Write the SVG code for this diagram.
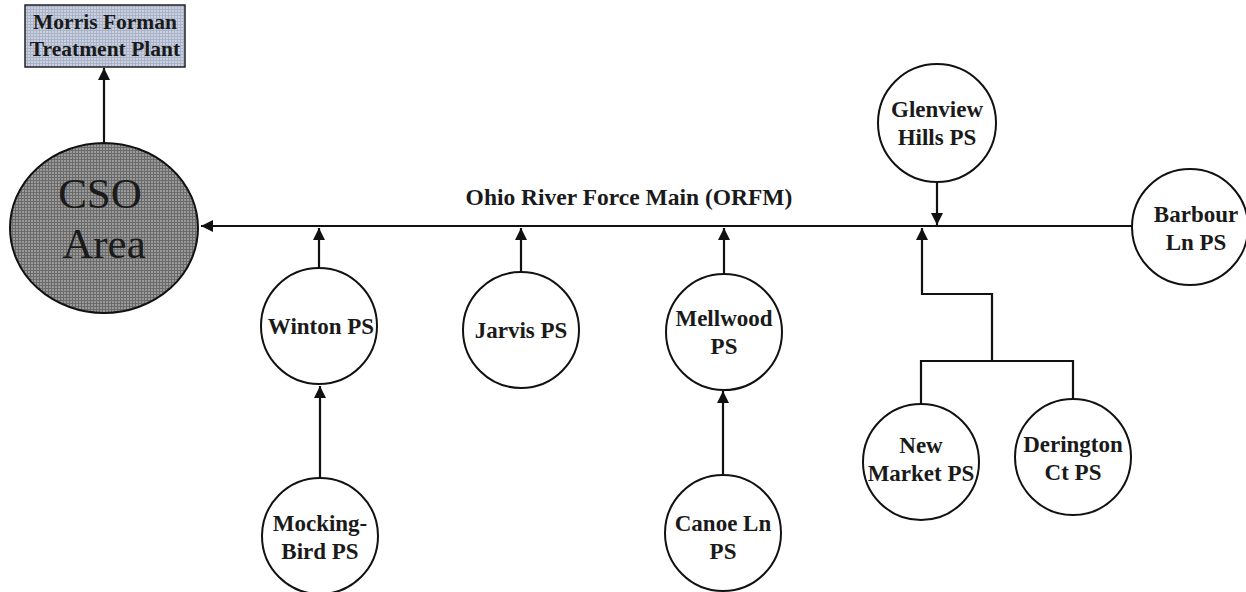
<svg xmlns="http://www.w3.org/2000/svg" width="1246" height="592" viewBox="0 0 1246 592">
<style>
.node{fill:#fff;stroke:#111;stroke-width:2}
.lbl{font-family:"Liberation Serif","Times New Roman",serif;font-weight:bold;font-size:23px;fill:#1a1a1a;text-anchor:middle}
.big{font-family:"Liberation Serif","Times New Roman",serif;font-size:43px;fill:#1a1a1a;text-anchor:middle}
.ln{fill:none;stroke:#111;stroke-width:2.2}
</style>
<defs>
<marker id="ah" markerUnits="userSpaceOnUse" markerWidth="12" markerHeight="14" refX="12" refY="6" orient="auto">
<path d="M0,0 L12,6 L0,12 z" fill="#111"/>
</marker>
<pattern id="hatchDark" width="3" height="3" patternUnits="userSpaceOnUse">
<rect width="3" height="3" fill="#9a9a9a"/>
<path d="M0,0.5H3M0.5,0V3" stroke="#6a6a6a" stroke-width="1"/>
</pattern>
<pattern id="hatchBlue" width="3" height="3" patternUnits="userSpaceOnUse">
<rect width="3" height="3" fill="#c9d1e2"/>
<path d="M0,0.5H3M0.5,0V3" stroke="#aab3c6" stroke-width="1"/>
</pattern>
</defs>
<rect width="1246" height="592" fill="#fff"/>

<g id="connectors">
<line class="ln" x1="1132" y1="226" x2="201" y2="226" marker-end="url(#ah)" stroke-width="2.6"/>
<line class="ln" x1="104" y1="143" x2="104" y2="68" marker-end="url(#ah)" stroke-width="2.6"/>
<line class="ln" x1="319" y1="267" x2="319" y2="228" marker-end="url(#ah)"/>
<line class="ln" x1="521" y1="272" x2="521" y2="228" marker-end="url(#ah)"/>
<line class="ln" x1="724" y1="274" x2="724" y2="228" marker-end="url(#ah)"/>
<line class="ln" x1="320" y1="478" x2="320" y2="386" marker-end="url(#ah)"/>
<line class="ln" x1="723" y1="475" x2="723" y2="391" marker-end="url(#ah)"/>
<line class="ln" x1="937" y1="182" x2="937" y2="225" marker-end="url(#ah)"/>
<polyline class="ln" points="992,361 992,294 922,294 922,228" marker-end="url(#ah)"/>
<polyline class="ln" points="921,404 921,361 1073,361 1073,399"/>
</g>

<text x="629" y="205" class="lbl" style="font-size:23.5px">Ohio River Force Main (ORFM)</text>

<g id="morris-forman">
<rect x="25" y="5" width="160" height="62" fill="url(#hatchBlue)" stroke="#222" stroke-width="1.5"/>
<text x="105" y="29" class="lbl" style="font-size:21.5px">Morris Forman</text>
<text x="105" y="56" class="lbl" style="font-size:21.5px">Treatment Plant</text>
</g>

<g id="cso-area">
<ellipse cx="104" cy="228" rx="94" ry="85" fill="url(#hatchDark)" stroke="#111" stroke-width="2"/>
<text x="100" y="208" class="big">CSO</text>
<text x="104" y="258" class="big">Area</text>
</g>

<g id="winton">
<circle cx="319" cy="326" r="58" class="node"/>
<text x="321" y="334" class="lbl">Winton PS</text>
</g>

<g id="jarvis">
<circle cx="521" cy="330" r="58" class="node"/>
<text x="521" y="338" class="lbl">Jarvis PS</text>
</g>

<g id="mellwood">
<circle cx="724" cy="332" r="58" class="node"/>
<text x="724" y="326" class="lbl">Mellwood</text>
<text x="724" y="354" class="lbl">PS</text>
</g>

<g id="glenview">
<circle cx="937" cy="123" r="59" class="node"/>
<text x="937" y="117" class="lbl">Glenview</text>
<text x="937" y="145" class="lbl">Hills PS</text>
</g>

<g id="barbour">
<circle cx="1190" cy="227" r="58" class="node"/>
<text x="1196" y="222" class="lbl">Barbour</text>
<text x="1196" y="250" class="lbl">Ln PS</text>
</g>

<g id="mockingbird">
<circle cx="320" cy="536" r="58" class="node"/>
<text x="320" y="531" class="lbl">Mocking-</text>
<text x="320" y="559" class="lbl">Bird PS</text>
</g>

<g id="canoe">
<circle cx="723" cy="533" r="58" class="node"/>
<text x="723" y="531" class="lbl">Canoe Ln</text>
<text x="723" y="559" class="lbl">PS</text>
</g>

<g id="new-market">
<circle cx="921" cy="462" r="58" class="node"/>
<text x="921" y="453" class="lbl">New</text>
<text x="921" y="481" class="lbl">Market PS</text>
</g>

<g id="derington">
<circle cx="1073" cy="457" r="58" class="node"/>
<text x="1073" y="452" class="lbl">Derington</text>
<text x="1073" y="480" class="lbl">Ct PS</text>
</g>
</svg>
